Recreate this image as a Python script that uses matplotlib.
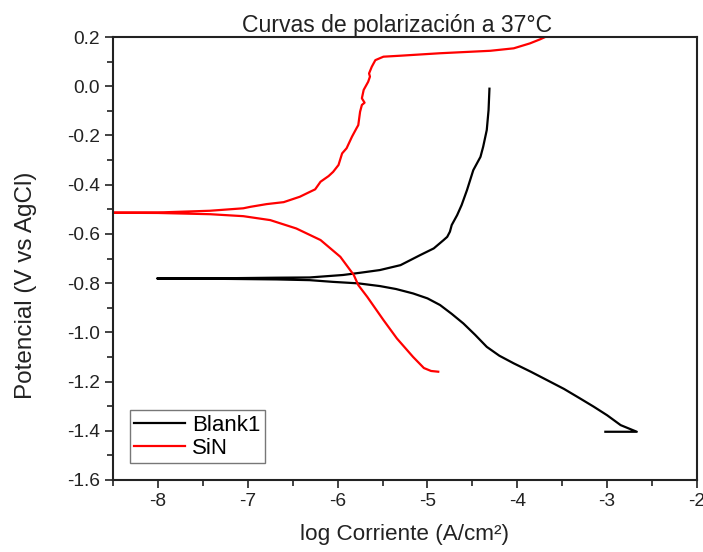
import matplotlib
matplotlib.use("Agg")
import matplotlib.pyplot as plt
from matplotlib.ticker import MultipleLocator

plt.rcParams['font.family'] = ['Liberation Sans', 'DejaVu Sans']

# Blank1: cathodic branch (from bottom) then anodic branch
blank_x = [-3.02, -2.67, -2.85, -3.00, -3.15, -3.30, -3.48, -3.67, -3.85, -4.04, -4.20, -4.34,
           -4.47, -4.60, -4.73, -4.86, -5.00, -5.16, -5.35, -5.53, -5.77, -6.05, -6.31, -6.68,
           -7.20, -7.60, -8.01,
           -7.60, -7.20, -6.68, -6.31, -5.94, -5.75, -5.53, -5.30, -5.08, -4.93, -4.82, -4.78,
           -4.75, -4.73, -4.67, -4.62, -4.56, -4.49, -4.41, -4.38, -4.34, -4.32, -4.31]
blank_y = [-1.404, -1.404, -1.377, -1.337, -1.302, -1.269, -1.230, -1.194, -1.160, -1.126, -1.095, -1.059,
           -1.010, -0.964, -0.925, -0.889, -0.862, -0.842, -0.824, -0.812, -0.801, -0.795, -0.788, -0.785,
           -0.783, -0.782, -0.781,
           -0.781, -0.780, -0.778, -0.777, -0.767, -0.758, -0.747, -0.727, -0.686, -0.659, -0.625, -0.612,
           -0.591, -0.564, -0.524, -0.483, -0.422, -0.341, -0.287, -0.246, -0.178, -0.097, -0.010]

# SiN: cathodic branch (from bottom) then anodic branch
sin_x = [-4.88, -4.96, -5.04, -5.16, -5.34, -5.49, -5.67, -5.77, -5.82, -5.97, -6.19, -6.46,
         -6.75, -7.05, -7.42, -8.00, -8.60,
         -8.00, -7.42, -7.05, -6.97, -6.79, -6.60, -6.42, -6.33, -6.25, -6.19, -6.10, -6.05,
         -5.99, -5.95, -5.90, -5.84, -5.79, -5.77, -5.75, -5.73, -5.70, -5.73, -5.71, -5.66,
         -5.64, -5.65, -5.62, -5.58, -5.49, -5.30, -4.86, -4.30, -4.04, -3.86, -3.75, -3.69]
sin_y = [-1.160, -1.157, -1.145, -1.100, -1.025, -0.950, -0.856, -0.808, -0.767, -0.693, -0.625, -0.578,
         -0.544, -0.528, -0.520, -0.515, -0.514,
         -0.513, -0.506, -0.496, -0.490, -0.479, -0.471, -0.449, -0.433, -0.419, -0.388, -0.365, -0.348,
         -0.320, -0.273, -0.252, -0.205, -0.171, -0.158, -0.104, -0.076, -0.067, -0.049, -0.015, 0.018,
         0.039, 0.052, 0.079, 0.106, 0.120, 0.124, 0.134, 0.144, 0.154, 0.174, 0.190, 0.200]

fig = plt.figure(figsize=(7.03, 5.52), dpi=100)
ax = fig.add_axes([113/703, 1-480/552, (697-113)/703, (480-37)/552])

ax.plot(blank_x, blank_y, color='black', lw=1.6, label='Blank1')
ax.plot(sin_x, sin_y, color='#ff0000', lw=1.6, label='SiN')

ax.set_xlim(-8.5, -2)
ax.set_ylim(-1.6, 0.2)
ax.xaxis.set_minor_locator(MultipleLocator(0.5))
ax.yaxis.set_minor_locator(MultipleLocator(0.1))
ax.set_xticks([-8, -7, -6, -5, -4, -3, -2])
ax.set_xticklabels(['-8', '-7', '-6', '-5', '-4', '-3', '-2'])
ax.set_yticks([0.2, 0.0, -0.2, -0.4, -0.6, -0.8, -1.0, -1.2, -1.4, -1.6])
ax.set_yticklabels(['0.2', '0.0', '-0.2', '-0.4', '-0.6', '-0.8', '-1.0', '-1.2', '-1.4', '-1.6'])
ax.tick_params(which='major', direction='out', length=6, width=1.2, labelsize=13.8,
               color='#222222', labelcolor='#222222')
ax.tick_params(which='minor', direction='out', length=4, width=1.2, color='#222222')
for s in ax.spines.values():
    s.set_linewidth(1.5)
    s.set_color('#222222')

ax.set_xlabel('log Corriente (A/cm²)', fontsize=16.2, color='#222222')
ax.xaxis.set_label_coords(0.5, -0.1)
ax.set_ylabel('Potencial (V vs AgCl)', fontsize=17.5, color='#222222')
ax.yaxis.set_label_coords(-0.13, 0.44)
ax.set_title('Curvas de polarización a 37°C', fontsize=16.6, pad=2, color='#222222', x=0.487)

leg = ax.legend(loc='lower left', fontsize=16, fancybox=False, edgecolor='#777777',
                framealpha=1, handlelength=2.3, borderaxespad=0.75, labelspacing=0.1,
                handletextpad=0.3, borderpad=0.2)
leg.get_frame().set_linewidth(1.0)

fig.savefig('out.png', dpi=100)
